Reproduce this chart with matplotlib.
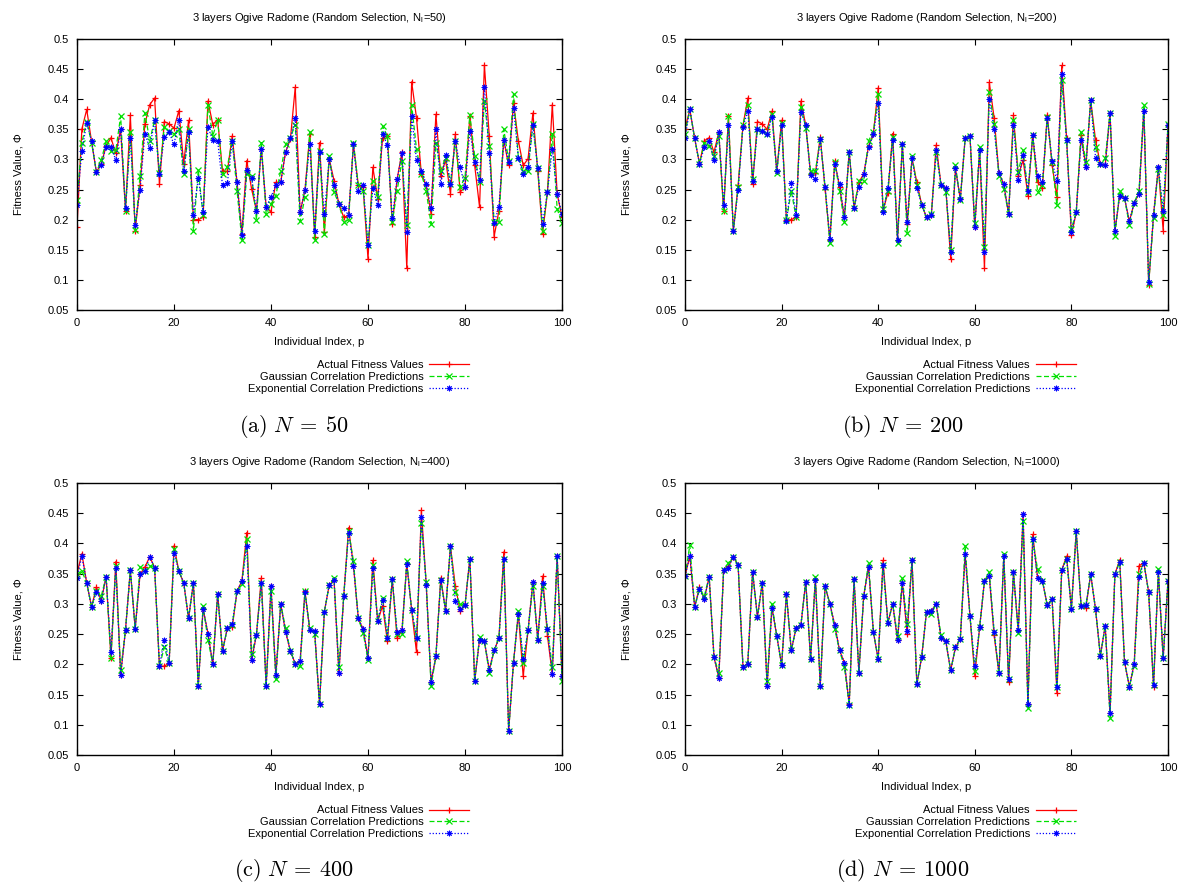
import numpy as np
import matplotlib
matplotlib.use("Agg")
import matplotlib.pyplot as plt

plt.rcParams['font.family'] = ['Liberation Sans', 'DejaVu Sans']
plt.rcParams['font.size'] = 8
plt.rcParams['mathtext.fontset'] = 'cm'

index = list(range(101))

# ---- Panel (a) N=50 ----
a_actual = [.188,.350,.383,.330,.279,.293,.322,.336,.310,.350,.215,.373,.182,.257,.359,.391,.402,.259,.363,.359,
            .352,.381,.293,.365,.200,.200,.204,.397,.358,.366,.281,.280,.339,.262,.177,.298,.251,.215,.318,.221,
            .213,.262,.262,.312,.334,.420,.212,.249,.342,.171,.328,.180,.301,.265,.226,.204,.207,.325,.257,.254,
            .135,.287,.235,.336,.339,.192,.267,.312,.119,.429,.369,.276,.257,.210,.375,.273,.299,.243,.342,.246,
            .254,.372,.290,.221,.457,.339,.172,.215,.332,.290,.394,.331,.290,.301,.377,.281,.177,.246,.391,.243,.204]
a_gauss = [.233,.328,.363,.328,.279,.299,.330,.314,.315,.372,.215,.346,.183,.273,.377,.331,.366,.277,.354,.347,
           .342,.350,.275,.350,.181,.282,.207,.391,.339,.366,.276,.288,.331,.248,.166,.276,.273,.200,.328,.209,
           .226,.240,.281,.325,.336,.358,.197,.237,.345,.167,.314,.177,.306,.246,.226,.196,.200,.328,.257,.248,
           .158,.265,.237,.355,.339,.196,.248,.298,.191,.391,.317,.276,.248,.193,.328,.281,.303,.260,.331,.254,
           .270,.374,.306,.262,.397,.323,.196,.196,.350,.298,.408,.303,.281,.281,.359,.285,.182,.246,.343,.218,.194]
a_expo = [.225,.314,.361,.331,.279,.291,.321,.321,.299,.350,.220,.336,.191,.250,.343,.319,.365,.276,.337,.345,
          .325,.365,.280,.345,.207,.269,.213,.354,.332,.331,.257,.261,.330,.262,.175,.283,.269,.214,.318,.221,
          .237,.258,.262,.312,.335,.368,.212,.249,.325,.182,.313,.209,.300,.258,.226,.219,.207,.325,.247,.257,
          .158,.253,.224,.343,.324,.203,.267,.310,.180,.372,.299,.280,.260,.219,.350,.259,.308,.260,.331,.288,
          .254,.348,.295,.266,.421,.310,.195,.221,.332,.295,.386,.303,.276,.288,.357,.285,.193,.246,.318,.243,.209]

# ---- Panel (b) N=200 ----
b_actual = [.351,.383,.335,.293,.331,.336,.312,.345,.214,.372,.181,.257,.356,.402,.259,.363,.359,.350,.380,.280,
            .365,.199,.200,.204,.397,.357,.276,.277,.337,.251,.166,.297,.254,.204,.313,.219,.262,.276,.322,.342,
            .419,.215,.244,.343,.166,.325,.193,.302,.262,.225,.204,.207,.324,.258,.252,.135,.285,.234,.335,.339,
            .187,.315,.119,.428,.369,.277,.259,.209,.373,.273,.299,.240,.340,.262,.253,.374,.291,.237,.456,.336,
            .174,.212,.340,.288,.398,.332,.292,.290,.377,.181,.240,.236,.197,.228,.243,.381,.092,.208,.287,.182,.357]
b_gauss = [.343,.383,.335,.293,.328,.323,.306,.339,.215,.372,.181,.254,.358,.391,.268,.351,.347,.343,.375,.277,
           .361,.199,.248,.204,.387,.353,.281,.281,.334,.254,.161,.295,.248,.196,.313,.219,.265,.265,.331,.346,
           .408,.218,.248,.337,.161,.325,.178,.306,.257,.225,.204,.210,.312,.258,.246,.150,.290,.232,.335,.339,
           .195,.320,.155,.412,.359,.273,.251,.210,.366,.279,.315,.246,.340,.246,.257,.370,.295,.224,.432,.333,
           .185,.212,.345,.296,.398,.320,.292,.302,.377,.173,.248,.236,.191,.228,.248,.390,.094,.202,.284,.207,.359]
b_expo = [.336,.383,.335,.293,.320,.330,.299,.345,.224,.357,.181,.250,.354,.381,.265,.350,.347,.342,.371,.280,
          .357,.197,.261,.207,.379,.357,.274,.268,.334,.255,.168,.293,.259,.204,.313,.219,.255,.276,.320,.342,
          .394,.212,.252,.332,.166,.325,.196,.302,.252,.225,.204,.207,.315,.258,.253,.146,.285,.234,.335,.339,
          .187,.315,.147,.401,.350,.277,.259,.209,.357,.266,.308,.248,.340,.272,.262,.368,.297,.264,.442,.332,
          .179,.212,.332,.288,.398,.303,.292,.290,.377,.181,.240,.236,.197,.228,.243,.381,.096,.208,.287,.215,.357]

# ---- Panel (c) N=400 ----
c_actual = [.350,.383,.335,.295,.328,.305,.345,.211,.370,.182,.257,.356,.259,.349,.361,.378,.360,.197,.197,.202,
            .396,.354,.335,.276,.335,.164,.292,.251,.200,.316,.222,.260,.261,.321,.338,.418,.207,.249,.343,.164,
            .329,.182,.300,.254,.222,.201,.205,.321,.256,.255,.134,.287,.331,.339,.185,.313,.426,.363,.276,.258,
            .211,.372,.271,.297,.238,.341,.243,.256,.366,.290,.220,.455,.332,.171,.213,.343,.289,.395,.330,.288,
            .298,.375,.173,.241,.238,.191,.223,.243,.386,.090,.203,.284,.180,.256,.337,.241,.346,.247,.184,.380,.181]
c_gauss = [.349,.354,.335,.295,.322,.313,.345,.210,.362,.190,.257,.356,.259,.361,.354,.363,.360,.197,.228,.202,
           .390,.354,.335,.276,.335,.164,.296,.241,.200,.316,.222,.260,.265,.321,.333,.407,.217,.249,.335,.164,
           .321,.175,.300,.260,.222,.201,.197,.321,.260,.250,.134,.287,.331,.343,.195,.313,.420,.371,.276,.252,
           .207,.365,.271,.310,.244,.341,.250,.250,.371,.290,.244,.434,.337,.164,.213,.339,.289,.395,.319,.300,
           .298,.375,.173,.245,.238,.186,.223,.243,.375,.090,.203,.288,.203,.256,.330,.241,.330,.259,.195,.380,.172]
c_expo = [.343,.379,.335,.295,.320,.305,.345,.221,.360,.182,.257,.356,.259,.349,.354,.378,.360,.197,.241,.202,
          .385,.354,.335,.276,.335,.164,.292,.251,.200,.316,.222,.260,.267,.321,.338,.396,.207,.249,.335,.164,
          .329,.182,.300,.254,.222,.201,.205,.319,.256,.255,.134,.287,.331,.339,.185,.313,.418,.363,.276,.258,
          .211,.360,.271,.306,.244,.341,.254,.256,.366,.290,.244,.443,.332,.171,.213,.339,.289,.395,.304,.291,
          .298,.375,.173,.241,.238,.191,.223,.243,.375,.090,.203,.284,.209,.256,.337,.241,.335,.259,.184,.380,.181]

# ---- Panel (d) N=1000 ----
d_actual = [.346,.379,.295,.328,.308,.345,.212,.178,.356,.362,.378,.364,.196,.201,.353,.278,.335,.164,.294,.247,
            .199,.316,.223,.260,.265,.337,.209,.342,.164,.329,.300,.265,.223,.203,.134,.341,.186,.313,.361,.254,
            .208,.372,.269,.300,.240,.335,.250,.372,.167,.212,.287,.288,.300,.244,.238,.190,.228,.242,.382,.280,
            .181,.261,.338,.346,.248,.185,.379,.171,.352,.256,.449,.134,.415,.343,.338,.298,.308,.153,.356,.379,
            .292,.420,.297,.294,.349,.291,.214,.264,.119,.349,.373,.204,.163,.201,.363,.368,.319,.162,.353,.210,.338]
d_gauss = [.346,.397,.295,.324,.313,.345,.212,.186,.356,.368,.378,.364,.196,.201,.353,.278,.335,.172,.300,.247,
           .199,.316,.223,.260,.265,.337,.209,.345,.164,.329,.300,.258,.223,.195,.133,.341,.186,.313,.368,.254,
           .208,.364,.269,.300,.247,.343,.266,.372,.167,.212,.287,.283,.300,.249,.238,.190,.228,.242,.396,.280,
           .189,.261,.338,.352,.254,.185,.382,.175,.352,.252,.437,.128,.407,.357,.338,.298,.308,.163,.356,.375,
           .292,.420,.297,.298,.349,.291,.214,.264,.112,.349,.369,.204,.163,.197,.349,.368,.319,.166,.357,.210,.338]
d_expo = [.346,.379,.295,.324,.308,.345,.212,.178,.356,.360,.378,.364,.196,.201,.353,.278,.335,.164,.294,.247,
          .199,.316,.223,.260,.265,.337,.209,.339,.164,.329,.300,.265,.223,.203,.133,.341,.186,.313,.361,.254,
          .208,.364,.269,.300,.240,.335,.255,.372,.167,.212,.287,.288,.300,.244,.238,.190,.228,.242,.382,.280,
          .197,.261,.338,.346,.254,.185,.379,.175,.352,.256,.449,.134,.407,.343,.338,.298,.308,.163,.356,.375,
          .292,.420,.297,.298,.349,.291,.214,.264,.119,.349,.369,.204,.163,.201,.345,.368,.319,.166,.353,.210,.338]

panels = [
    ("50", "a", a_actual, a_gauss, a_expo),
    ("200", "b", b_actual, b_gauss, b_expo),
    ("400", "c", c_actual, c_gauss, c_expo),
    ("1000", "d", d_actual, d_gauss, d_expo),
]
series_labels = ["Actual Fitness Values", "Gaussian Correlation Predictions", "Exponential Correlation Predictions"]
xticks = [0, 20, 40, 60, 80, 100]
yticks = [0.05, 0.1, 0.15, 0.2, 0.25, 0.3, 0.35, 0.4, 0.45, 0.5]
ytick_labels = ["0.05", "0.1", "0.15", "0.2", "0.25", "0.3", "0.35", "0.4", "0.45", "0.5"]

W, H = 1186, 888
fig = plt.figure(figsize=(W / 100, H / 100), dpi=100)

# axes rectangles in pixel coords (left, top, right, bottom)
rects = [(77, 39, 562, 310), (685, 39, 1168, 310), (77, 483, 562, 755), (685, 483, 1168, 755)]
caption_pos = [(294, 426), (903, 426), (294, 870), (903, 870)]

asterisk = (8, 2, 0)
for (n, letter, act, gau, exp_), (l, t, r, b), (cx, cy) in zip(panels, rects, caption_pos):
    ax = fig.add_axes([l / W, 1 - b / H, (r - l) / W, (b - t) / H])
    ax.plot(index, act, color='#ff0000', lw=0.9, ls='-', marker='+', ms=5, mew=0.9,
            label=series_labels[0])
    ax.plot(index, gau, color='#00e000', lw=0.9, ls=(0, (4, 2)), marker='x', ms=4, mew=0.9,
            label=series_labels[1])
    ax.plot(index, exp_, color='#0000ff', lw=0.9, ls=(0, (1, 1.5)), marker=asterisk, ms=4, mew=0.7,
            label=series_labels[2])
    ax.set_xlim(0, 100)
    ax.set_ylim(0.05, 0.5)
    ax.set_xticks(xticks)
    ax.set_yticks(yticks)
    ax.set_yticklabels(ytick_labels)
    ax.tick_params(direction='in', top=True, right=True, length=4, width=0.8, labelsize=8, pad=6)
    for s in ax.spines.values():
        s.set_linewidth(1.0)
    ax.set_xlabel("Individual Index, p", fontsize=8, labelpad=6)
    ax.set_ylabel("Fitness Value, Φ", fontsize=8, labelpad=17)
    ax.set_title("3 layers Ogive Radome (Random Selection, N$_\\mathregular{l}$=%s)" % n,
                 fontsize=8, pad=13)
    ax.legend(loc='upper right', bbox_to_anchor=(0.82, -0.165), frameon=False, markerfirst=False,
              fontsize=8, handlelength=3.6, labelspacing=0.15, handletextpad=0.5, borderpad=0)
    fig.text(cx / W, 1 - cy / H, r"$\mathrm{(%s)}\ N\:=\:%s$" % (letter, n), fontsize=16,
             ha='center', va='center')

fig.savefig("out.png", dpi=100)
